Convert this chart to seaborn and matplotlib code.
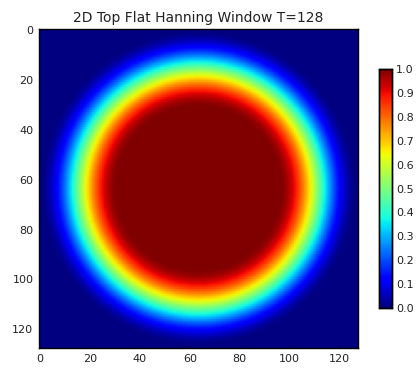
import numpy as np
import seaborn as sns
import matplotlib
matplotlib.use("Agg")
import matplotlib.pyplot as plt

# -------------------------------------------------
# Window parameters
# -------------------------------------------------
T = 128
flat_radius = T / 4      # value stays 1.0 inside this radius
zero_radius = T / 2      # Hann taper reaches 0.0 here
center = (T - 1) / 2

tick_values = [0, 20, 40, 60, 80, 100, 120]
cbar_ticks = [0.0, 0.1, 0.2, 0.3, 0.4, 0.5, 0.6, 0.7, 0.8, 0.9, 1.0]

# 2D top flat hanning window
idx = np.arange(T)
yy, xx = np.meshgrid(idx, idx, indexing="ij")
r = np.hypot(xx - center, yy - center)
t = np.clip((r - flat_radius) / (zero_radius - flat_radius), 0, 1)
window = 0.5 * (1 + np.cos(np.pi * t))

# -------------------------------------------------
# Plot
# -------------------------------------------------
sns.set_style("white")
plt.rcParams["font.family"] = ["DejaVu Sans"]

W, H = 419, 370
fig = plt.figure(figsize=(W / 100, H / 100), dpi=100)
ax = fig.add_axes([39 / W, 1 - 348 / H, 319 / W, 319 / H])
cax = fig.add_axes([379 / W, 1 - 308 / H, 13 / W, 239 / H])

# smooth shading, like the interpolated image in the reference
sns.heatmap(window, cmap="jet", vmin=0, vmax=1, ax=ax, cbar_ax=cax,
            xticklabels=False, yticklabels=False, shading="gouraud",
            cbar_kws={"ticks": cbar_ticks}, rasterized=True)
ax.set_position([39 / W, 1 - 348 / H, 319 / W, 319 / H])
ax.set_facecolor(plt.get_cmap("jet")(0.0))
ax.set_xlim(-0.5, T - 0.5)
ax.set_ylim(T - 0.5, -0.5)

ax.set_xticks(tick_values)
ax.set_xticklabels(tick_values, rotation=0)
ax.set_yticks(tick_values)
ax.set_yticklabels(tick_values, rotation=0)
ax.tick_params(axis="both", which="both", direction="in", length=4,
               width=0.8, labelsize=8, color="black", top=True, right=True,
               bottom=True, left=True, labelcolor="#222222", pad=4)
for s in ax.spines.values():
    s.set_visible(True)
    s.set_color("black")
    s.set_linewidth(1.0)
ax.set_title("2D Top Flat Hanning Window T=128", fontsize=10, color="#222222", pad=5)

cax.tick_params(direction="in", length=4, width=0.8, labelsize=8,
                color="black", labelcolor="#222222", pad=3)
cax.set_yticklabels([f"{v:.1f}" for v in cbar_ticks])
for s in cax.spines.values():
    s.set_visible(True)
    s.set_color("black")
    s.set_linewidth(1.0)

fig.savefig("out.png", dpi=100)
